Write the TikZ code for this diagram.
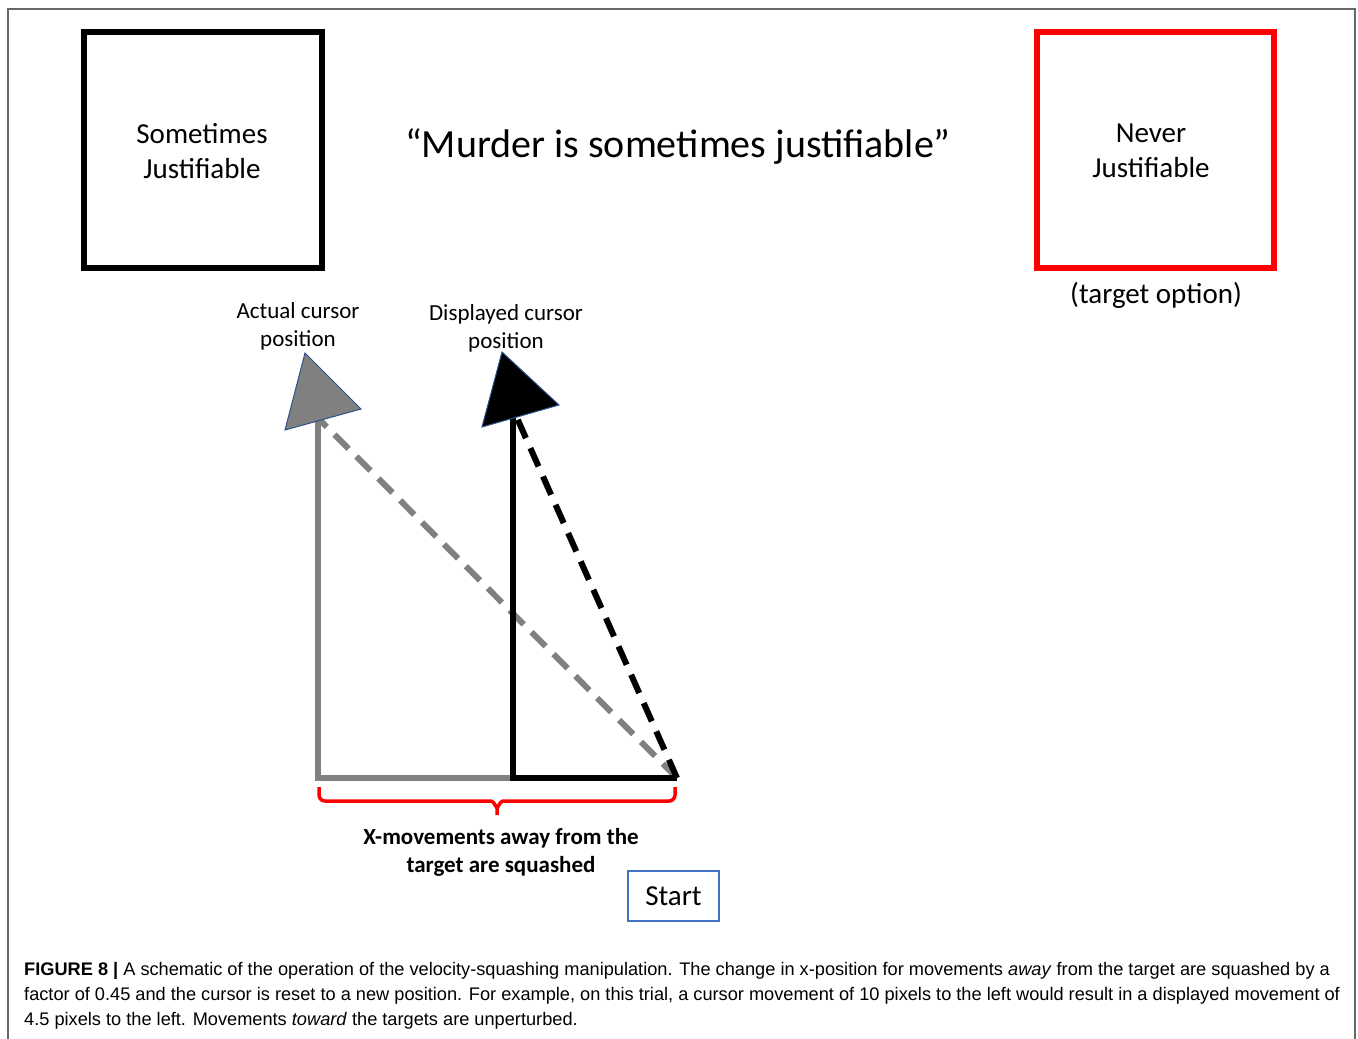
\documentclass[tikz,border=0pt]{standalone}
\usepackage{fontspec}
\setmainfont{Carlito}
\newfontfamily\capfont{Liberation Sans}
\definecolor{edgeblue}{RGB}{47,82,143}
\definecolor{startblue}{RGB}{68,114,196}
\definecolor{midgray}{RGB}{128,128,128}
\begin{document}
\begin{tikzpicture}[x=1pt,y=-1pt,
  optbox/.style={line width=6pt},
  lbl/.style={align=center,inner sep=0pt,font=\fontsize{29}{35}\selectfont},
  cursorlbl/.style={align=center,inner sep=0pt,font=\fontsize{23}{28}\selectfont},
  cursortip/.style={draw=edgeblue,line width=1pt,line join=miter},
  track/.style={line width=6pt},
  dashtrack/.style={line width=6pt,dash pattern=on 20pt off 11pt}]
\useasboundingbox (0,0) rectangle (1358,1039);
% page frame (open at the bottom)
\draw[midgray!80!black,line width=1.2pt] (8,1039) -- (8,9) -- (1355,9) -- (1355,1039);

% response options
\draw[optbox] (84,32) rectangle (322,268);
\node[lbl] (sj) at (202,151) {Sometimes\\Justifiable};
\draw[optbox,red] (1037,32) rectangle (1274,268);
\node[lbl] (nj) at (1151,151) {Never\\Justifiable};
\node[lbl] (tgt) at (1156,295) {(target option)};
\node[inner sep=0pt,font=\fontsize{40}{48}\selectfont] (stmt) at (678,146) {“Murder is sometimes justifiable”};

% cursor labels
\node[cursorlbl] (actl) at (298,326) {Actual cursor\\position};
\node[cursorlbl] (displ) at (506,328) {Displayed cursor\\position};

% path points
\coordinate (st) at (677,778);
\coordinate (ac) at (318,778);
\coordinate (at) at (318,418);
\coordinate (dc) at (513,778);
\coordinate (dt) at (513,418);
\coordinate (dtd) at (517,418);

% actual cursor path
\draw[track,midgray] (at) -- (ac) -- (dc);
\draw[dashtrack,midgray] (st) -- (at);
% displayed cursor path
\draw[track,black] (dt) -- (dc) -- (st);
\draw[dashtrack,black] (st) -- (dtd);

% cursor arrowheads
\filldraw[cursortip,fill=midgray] (305,353) -- (361,409) -- (285,430) -- cycle;
\filldraw[cursortip,fill=black] (502,352) -- (559,405) -- (482,427) -- cycle;

% brace under the x-movement
\draw[red,line width=3.5pt,line join=round]
  (319,787) -- (319,795) to[out=-90,in=180] (325,801) -- (491,801)
  to[out=0,in=-90] (497,807) -- (497,815)
  (497,807) to[out=-90,in=180] (503,801) -- (669,801)
  to[out=0,in=-90] (675,795) -- (675,787);
\node[align=center,inner sep=0pt,font=\bfseries\fontsize{23}{28}\selectfont] (sq) at (501,852)
  {X-movements away from the\\target are squashed};

% start box
\node[draw=startblue,line width=1.5pt,minimum width=91pt,minimum height=50pt,inner sep=0pt,
  font=\fontsize{29}{35}\selectfont] (start) at (673.5,896) {Start};

% caption
\node[anchor=north west,align=left,inner sep=0pt,font=\capfont\fontsize{18.2}{25}\selectfont] (cap) at (24,962)
  {\textbf{FIGURE 8 |} A schematic of the operation of the velocity-squashing manipulation. The change in x-position for movements \textit{away} from the target are squashed by a\\
  factor of 0.45 and the cursor is reset to a new position. For example, on this trial, a cursor movement of 10 pixels to the left would result in a displayed movement of\\
  4.5 pixels to the left. Movements \textit{toward} the targets are unperturbed.};
\end{tikzpicture}
\end{document}
